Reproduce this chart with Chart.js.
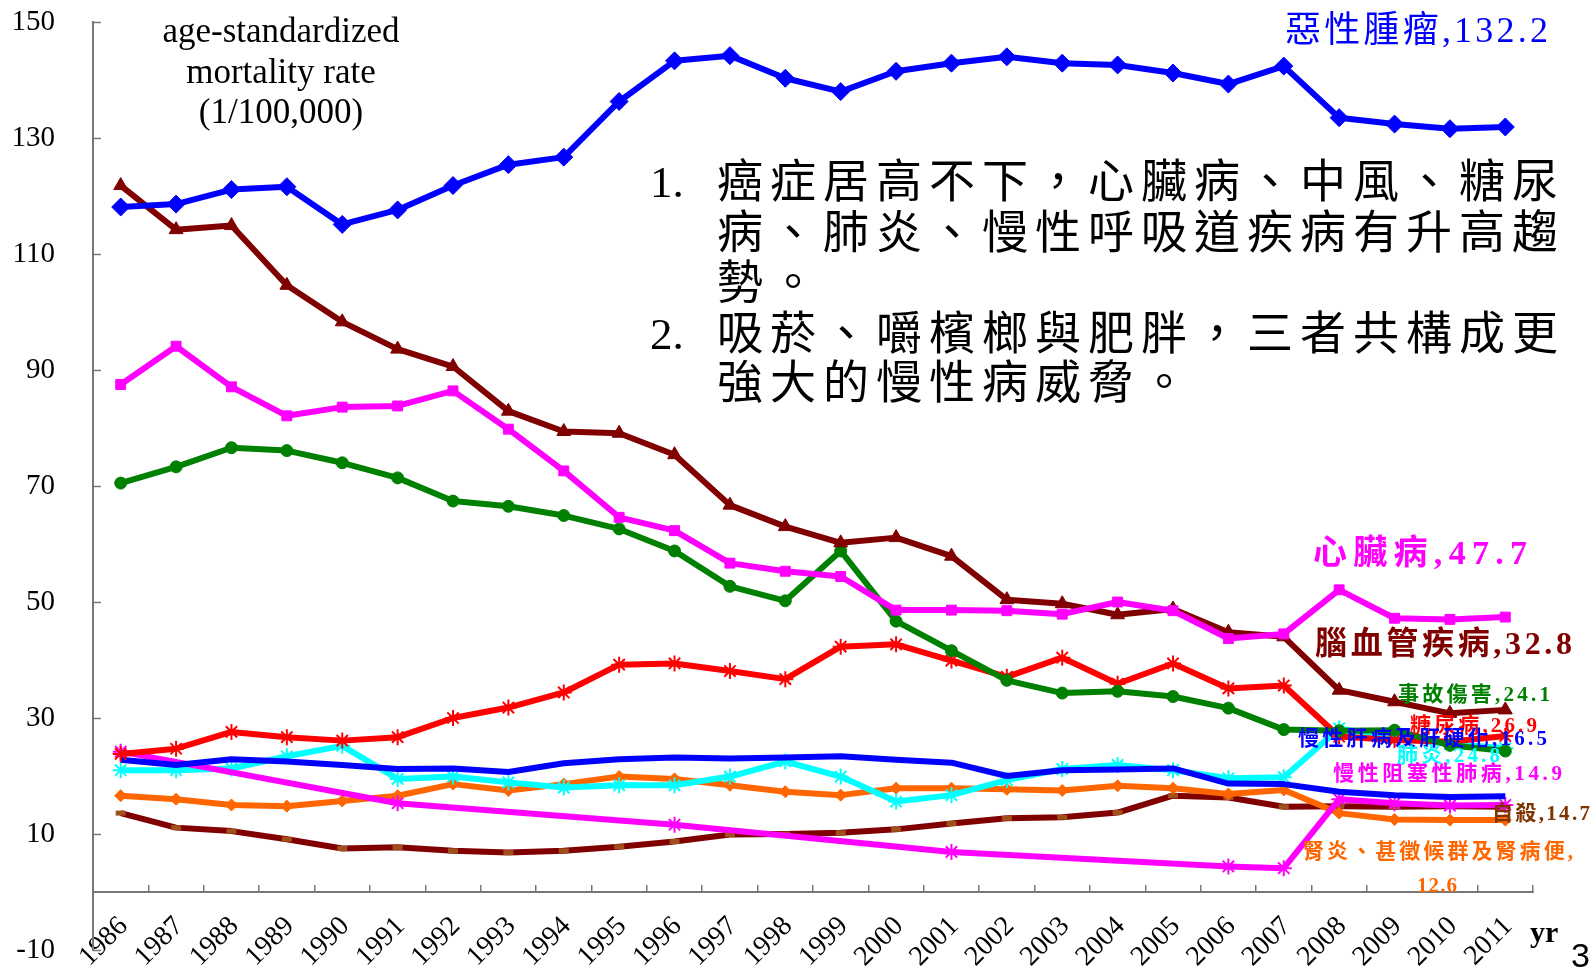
<!DOCTYPE html>
<html>
<head>
<meta charset="utf-8">
<script src="https://cdn.jsdelivr.net/npm/chart.js@4.4.1/dist/chart.umd.min.js"></script>
<style>
  html, body { margin: 0; padding: 0; background: #fff; }
  canvas { display: block; }
</style>
</head>
<body>
<canvas id="chartTendencia" width="1591" height="968"></canvas>
<script>
// Tasas de mortalidad estandarizadas por edad, 1986-2011

const anios = ['1986', '1987', '1988', '1989', '1990', '1991', '1992', '1993', '1994', '1995', '1996', '1997', '1998',
  '1999', '2000', '2001', '2002', '2003', '2004', '2005', '2006', '2007', '2008', '2009', '2010', '2011'];

const yTicks = [-10, 10, 30, 50, 70, 90, 110, 130, 150];

const cancer = [118.1, 118.6, 121.1, 121.6, 115.1, 117.6, 121.8, 125.4, 126.7, 136.3, 143.3, 144.2, 140.3,
  138.0, 141.5, 142.9, 144.0, 142.9, 142.6, 141.2, 139.3, 142.4, 133.5, 132.4, 131.6, 131.9];
const corazon = [87.5, 94.1, 87.1, 82.1, 83.6, 83.8, 86.4, 79.8, 72.6, 64.6, 62.3, 56.7, 55.3,
  54.4, 48.6, 48.6, 48.5, 47.9, 50.0, 48.5, 43.7, 44.5, 52.1, 47.2, 47.0, 47.4];
const cerebro = [121.8, 114.2, 114.9, 104.6, 98.3, 93.6, 90.6, 82.9, 79.4, 79.1, 75.4, 66.7, 63.0,
  60.2, 61.1, 57.9, 50.4, 49.7, 47.8, 48.8, 44.8, 44.0, 34.8, 32.8, 30.8, 31.4];
const accidentes = [70.5, 73.3, 76.6, 76.1, 74.0, 71.4, 67.4, 66.5, 64.9, 62.6, 58.8, 52.7, 50.2,
  58.8, 46.7, 41.6, 36.5, 34.3, 34.6, 33.7, 31.7, 28.0, 27.8, 27.9, 25.3, 24.3];
const diabetes = [23.8, 24.7, 27.6, 26.7, 26.1, 26.7, 30.0, 31.8, 34.4, 39.2, 39.4, 38.1, 36.7,
  42.3, 42.7, 39.9, 37.1, 40.4, 35.9, 39.4, 35.1, 35.6, 26.8, 26.2, 25.9, 26.9];
const neumonia = [21.0, 21.0, 21.3, 23.4, 25.2, 19.5, 19.9, 18.9, 18.0, 18.4, 18.4, 19.9, 22.5,
  19.9, 15.6, 16.7, 19.3, 21.2, 21.9, 21.0, 19.6, 19.8, 28.2, 26.5, 25.5, 24.8];
const higado = [22.8, 21.9, 22.9, 22.5, 21.9, 21.2, 21.3, 20.7, 22.2, 22.9, 23.2, 23.0, 23.2,
  23.4, 22.8, 22.3, 20.0, 21.0, 21.1, 21.3, 18.7, 18.6, 17.3, 16.7, 16.4, 16.5];
const epoc = [24.2, null, null, null, null, 15.3, null, null, null, null, 11.6, null, null,
  null, null, 6.9, null, null, null, null, 4.4, 4.1, 16.0, 15.3, 14.9, 15.0];
const suicidio = [13.6, 11.1, 10.5, 9.1, 7.5, 7.7, 7.1, 6.8, 7.1, 7.8, 8.7, 9.9, 10.0,
  10.2, 10.8, 11.8, 12.7, 12.9, 13.7, 16.6, 16.3, 14.7, 14.8, 14.7, 14.8, 14.7];
const nefritis = [16.6, 16.0, 15.0, 14.8, 15.7, 16.6, 18.6, 17.5, 18.6, 19.9, 19.5, 18.4, 17.3,
  16.7, 17.9, 17.9, 17.7, 17.5, 18.3, 17.9, 16.9, 17.6, 13.6, 12.5, 12.4, 12.4];

const SERIF = '"Liberation Serif", "Noto Sans CJK TC", serif';
const CJK = '"Liberation Serif", "Noto Sans CJK TC", sans-serif';
const GRIS = '#777';

function serie(data, color, estilo, radio, extra) {
  return Object.assign({
    data: data,
    borderColor: color,
    backgroundColor: color,
    pointBackgroundColor: color,
    pointBorderColor: color,
    borderWidth: 6,
    pointStyle: estilo,
    pointRadius: radio,
    pointBorderWidth: 1,
    tension: 0,
    spanGaps: true,
    borderJoinStyle: 'round',
    fill: false
  }, extra || {});
}

// texto repartido entre x1 y x2, caracter por caracter
function textoAjustado(ctx, txt, x1, x2, cy, font, color) {
  ctx.save();
  ctx.font = font;
  ctx.fillStyle = color;
  ctx.textAlign = 'left';
  ctx.textBaseline = 'middle';
  const chars = [...txt];
  const anchos = chars.map(c => ctx.measureText(c).width);
  const total = anchos.reduce((a, b) => a + b, 0);
  const extra = chars.length > 1 ? (x2 - x1 - total) / (chars.length - 1) : 0;
  let x = x1;
  chars.forEach((c, i) => {
    ctx.fillText(c, x, cy);
    x += anchos[i] + extra;
  });
  ctx.restore();
}

function textoPaso(ctx, txt, x, cy, paso, font, color) {
  ctx.save();
  ctx.font = font;
  ctx.fillStyle = color;
  ctx.textAlign = 'left';
  ctx.textBaseline = 'middle';
  [...txt].forEach((c, i) => ctx.fillText(c, x + i * paso, cy));
  ctx.restore();
}

// marcas del eje Y hacia dentro del área
const marcasY = {
  id: 'marcasY',
  afterDraw(chart) {
    const ctx = chart.ctx;
    const y = chart.scales.y;
    ctx.save();
    ctx.strokeStyle = GRIS;
    ctx.lineWidth = 1.5;
    yTicks.forEach(v => {
      const py = Math.round(y.getPixelForValue(v)) + 0.5;
      ctx.beginPath();
      ctx.moveTo(y.right, py);
      ctx.lineTo(y.right + 8, py);
      ctx.stroke();
    });
    ctx.restore();
  }
};

const textos = {
  id: 'textos',
  afterDatasetsDraw(chart) {
    const ctx = chart.ctx;
    ctx.save();
    ctx.fillStyle = '#000';
    ctx.textAlign = 'center';
    ctx.textBaseline = 'middle';
    ctx.font = '35px ' + SERIF;
    ctx.fillText('age-standardized', 281, 33);
    ctx.fillText('mortality rate', 281, 74);
    ctx.fillText('(1/100,000)', 281, 114);

    ctx.font = '45px ' + SERIF;
    ctx.textAlign = 'left';
    ctx.fillText('1.', 650, 185);
    ctx.fillText('2.', 650, 337);
    ctx.restore();

    const f = '46px ' + CJK;
    textoPaso(ctx, '癌症居高不下，心臟病、中風、糖尿', 717, 185, 53, f, '#000');
    textoPaso(ctx, '病、肺炎、慢性呼吸道疾病有升高趨', 717, 236, 53, f, '#000');
    textoPaso(ctx, '勢。', 717, 286, 53, f, '#000');
    textoPaso(ctx, '吸菸、嚼檳榔與肥胖，三者共構成更', 717, 337, 53, f, '#000');
    textoPaso(ctx, '強大的慢性病威脅。', 717, 386, 53, f, '#000');

    textoAjustado(ctx, '惡性腫瘤,132.2', 1285, 1548, 33, '36px ' + CJK, '#0000FF');
    textoAjustado(ctx, '心臟病,47.7', 1313, 1527, 555, 'bold 34px ' + CJK, '#FF00FF');
    textoAjustado(ctx, '腦血管疾病,32.8', 1315, 1572, 646, 'bold 32px ' + CJK, '#800000');
    textoAjustado(ctx, '事故傷害,24.1', 1398, 1550, 696, 'bold 21px ' + CJK, '#008000');
    textoAjustado(ctx, '糖尿病,26.9', 1410, 1537, 727, 'bold 21px ' + CJK, '#FF0000');
    textoAjustado(ctx, '慢性肝病及肝硬化,16.5', 1298, 1547, 740, 'bold 21px ' + CJK, '#0000FF');
    textoAjustado(ctx, '肺炎,24.8', 1397, 1500, 757, 'bold 21px ' + CJK, '#00FFFF');
    textoAjustado(ctx, '慢性阻塞性肺病,14.9', 1333, 1562, 775, 'bold 21px ' + CJK, '#FF00FF');
    textoAjustado(ctx, '自殺,14.7', 1492, 1590, 815, 'bold 21px ' + CJK, '#7F3300');
    textoAjustado(ctx, '腎炎、甚徵候群及腎病便,', 1303, 1573, 853, 'bold 21px ' + CJK, '#FF6600');
    textoAjustado(ctx, '12.6', 1417, 1457, 887, 'bold 21px ' + CJK, '#FF6600');

    ctx.save();
    ctx.fillStyle = '#000';
    ctx.textAlign = 'left';
    ctx.textBaseline = 'alphabetic';
    ctx.font = 'bold 30px ' + SERIF;
    ctx.fillText('yr', 1530, 942);
    ctx.font = '34px "Liberation Sans", sans-serif';
    ctx.fillText('3', 1571, 967);
    ctx.restore();
  }
};

const ctxLinea = document.getElementById('chartTendencia');
new Chart(ctxLinea, {
  type: 'line',
  data: {
    labels: anios,
    datasets: [
      serie(cancer, '#0000FF', 'rectRot', 9),
      serie(corazon, '#FF00FF', 'rect', 7),
      serie(cerebro, '#800000', 'triangle', 8),
      serie(accidentes, '#008000', 'circle', 6),
      serie(diabetes, '#FF0000', 'star', 8, { pointBorderWidth: 2 }),
      serie(higado, '#0000FF', 'circle', 0),
      serie(epoc, '#FF00FF', 'star', 8, { pointBorderWidth: 2 }),
      serie(neumonia, '#00FFFF', 'star', 8, { pointBorderWidth: 2 }),
      serie(nefritis, '#FF6600', 'rectRot', 6),
      serie(suicidio, '#800000', 'line', 5, { pointBorderColor: '#A0501A', pointBorderWidth: 5 })
    ]
  },
  options: {
    responsive: false,
    animation: false,
    devicePixelRatio: 1,
    layout: { padding: { top: 22, right: 58, bottom: 18, left: 0 } },
    plugins: { legend: { display: false }, tooltip: { enabled: false } },
    scales: {
      x: {
        type: 'category',
        position: { y: 0 },
        offset: true,
        border: { color: GRIS, width: 2 },
        grid: { offset: true, drawOnChartArea: false, color: GRIS, lineWidth: 1.5, tickLength: -8 },
        ticks: {
          color: '#000',
          font: { family: SERIF, size: 28 },
          minRotation: 45,
          maxRotation: 45,
          autoSkip: false,
          padding: 26,
          labelOffset: 3
        }
      },
      y: {
        min: -10,
        max: 150,
        afterFit: s => { s.width = 93; },
        afterBuildTicks: s => { s.ticks = yTicks.map(v => ({ value: v })); },
        border: { color: GRIS, width: 2 },
        grid: { drawOnChartArea: false, tickColor: 'rgba(0,0,0,0)', tickLength: 38 },
        ticks: {
          color: '#000',
          font: { family: SERIF, size: 29 },
          padding: 0
        }
      }
    }
  },
  plugins: [marcasY, textos]
});
</script>
</body>
</html>
